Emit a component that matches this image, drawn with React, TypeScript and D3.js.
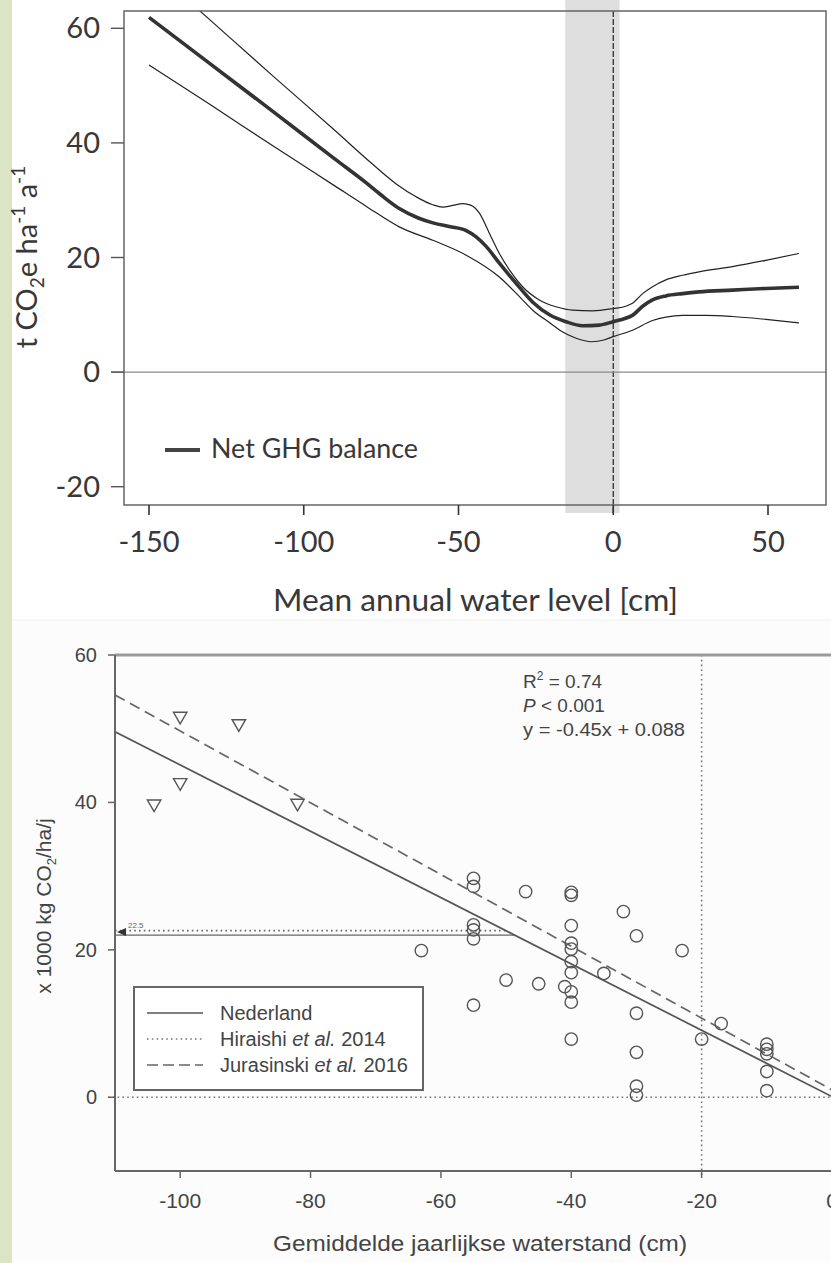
import React from 'react';
import * as d3 from 'd3';

// ---------- Top chart data ----------
const topTicksX = [-150, -100, -50, 0, 50];
const topTicksY = [-20, 0, 20, 40, 60];
const optimumBand = [-15.5, 2];
const netX = [-150, -130, -110, -90, -80, -75, -69, -63, -58, -53, -47.5, -44.3, -41, -36.8, -31.4, -26, -20.6, -15.3, -9.9, -4.5, 0, 4, 6.2, 9.5, 12.7, 17, 22.4, 27.7, 38.5, 49.3, 60];
const netY = [61.9, 53.7, 45.5, 37.2, 33.1, 30.9, 28.5, 26.9, 26.0, 25.4, 24.7, 23.6, 21.9, 19.0, 15.5, 12.2, 10.0, 8.8, 8.1, 8.2, 8.8, 9.4, 9.9, 11.5, 12.6, 13.3, 13.7, 14.0, 14.3, 14.6, 14.8];
const upperX = [-150, -133.5, -110, -90, -78, -70, -63.7, -58.3, -55.1, -51.8, -48.6, -45.9, -43.2, -40, -36.8, -33.5, -29.3, -23.9, -18.5, -13.1, -6.7, 0, 4.1, 6.2, 9.5, 12.7, 17, 22.4, 27.7, 38.5, 49.3, 60];
const upperY = [70.9, 63.0, 51.7, 42.2, 36.4, 32.8, 30.6, 29.2, 28.8, 29.1, 29.4, 29.1, 27.7, 24.2, 20.7, 17.8, 14.9, 12.6, 11.4, 10.8, 10.7, 11.1, 11.5, 12.0, 13.7, 14.9, 16.1, 16.9, 17.5, 18.4, 19.5, 20.7];
const lowerX = [-150, -130, -110, -90, -80, -69, -58.3, -47.5, -36.8, -30, -26, -20, -17, -12, -7, -3, 0, 6.2, 12.7, 17, 22.4, 30, 38.5, 49.3, 60];
const lowerY = [53.6, 46.6, 39.5, 32.5, 29.0, 25.3, 23.0, 20.4, 16.6, 13.0, 10.8, 8.4, 7.2, 5.9, 5.3, 5.6, 6.2, 7.3, 9.0, 9.6, 9.9, 9.9, 9.7, 9.2, 8.6];
const topLegendLabel = 'Net GHG balance';
const topXTitle = 'Mean annual water level [cm]';

// ---------- Bottom chart data ----------
const botTicksX = [-100, -80, -60, -40, -20, 0];
const botTicksY = [0, 20, 40, 60];
const circleX = [-55, -55, -47, -40, -40, -32, -40, -55, -55, -55, -30, -63, -23, -40, -40, -40, -40, -35, -50, -45, -41, -40, -40, -55, -30, -17, -20, -40, -10, -10, -10, -10, -30, -30, -30, -10];
const circleY = [29.7, 28.6, 27.9, 27.8, 27.4, 25.2, 23.3, 23.4, 22.7, 21.5, 21.9, 19.9, 19.9, 20.9, 20.1, 18.4, 16.9, 16.8, 15.9, 15.4, 15.0, 14.3, 12.9, 12.5, 11.4, 10.0, 7.9, 7.9, 7.2, 6.5, 5.9, 3.5, 6.1, 1.5, 0.3, 0.9];
const triX = [-100, -91, -100, -104, -82];
const triY = [51.7, 50.7, 42.7, 39.8, 39.9];
const nlSlope = -0.45;
const nlIntercept = 0.088;
const jurSlope = -0.487;
const jurIntercept = 1.0;
const hiraishiLevel = 22.6;
const readLevel = 22.0;
const refWaterLevel = -20;
const legendLabels = ['Nederland', 'Hiraishi', 'Jurasinski'];
const legendYears = ['', '2014', '2016'];
const statLines = ['0.74', '0.001', 'y = -0.45x + 0.088'];

const TOPFONT = 'Lato, "Open Sans", sans-serif';
const BOTFONT = '"Liberation Sans", Arial, sans-serif';

export default function App() {
  const W = 831, H = 1263;
  // top chart
  const tf = { l: 124, r: 826, t: 11, b: 505 };
  const xT = d3.scaleLinear().domain([-150, 50]).range([149, 768]);
  const yT = d3.scaleLinear().domain([-20, 60]).range([486.7, 28.3]);
  const lineT = d3.line<number[]>().x(d => xT(d[0])).y(d => yT(d[1])).curve(d3.curveMonotoneX);
  const zip = (a: number[], b: number[]) => a.map((v, i) => [v, b[i]]);

  // bottom chart
  const bf = { l: 115, r: 833, t: 655, b: 1171 };
  const xB = d3.scaleLinear().domain([-110, 0]).range([115, 832]);
  const yB = d3.scaleLinear().domain([-10, 60]).range([1171, 655]);
  const nl = (x: number) => nlSlope * x + nlIntercept;
  const jur = (x: number) => jurSlope * x + jurIntercept;
  const xHir = (hiraishiLevel - nlIntercept) / nlSlope;
  const xRead = (readLevel - nlIntercept) / nlSlope;
  const tri = d3.symbol().type(d3.symbolTriangle).size(78)();
  const dotted = '1.6 3.2';
  const gray = '#555';

  return (
    <svg width={W} height={H} style={{ position: 'absolute', left: 0, top: 0, background: '#fff' }}>
      <defs>
        <clipPath id="clipT"><rect x={tf.l} y={tf.t} width={tf.r - tf.l} height={tf.b - tf.t} /></clipPath>
        <clipPath id="clipB"><rect x={bf.l} y={bf.t} width={bf.r - bf.l} height={bf.b - bf.t} /></clipPath>
      </defs>
      <rect x={0} y={0} width={W} height={H} fill="#fff" />
      <rect x={12} y={620} width={W - 12} height={H - 620} fill="#fcfcfc" />
      <line x1={12} x2={W} y1={620} y2={620} stroke="#eee" strokeWidth={1} />
      <rect x={0} y={0} width={12} height={H} fill="#dbe4c4" />

      {/* ---------------- TOP CHART ---------------- */}
      <rect x={xT(optimumBand[0])} y={0} width={xT(optimumBand[1]) - xT(optimumBand[0])} height={513} fill="#dedede" />
      <line x1={xT(0)} x2={xT(0)} y1={tf.t} y2={513} stroke="#222" strokeWidth={1.2} strokeDasharray="6 2" />
      <line x1={111} x2={tf.r} y1={yT(0)} y2={yT(0)} stroke="#8a8a8a" strokeWidth={1.3} />
      <g clipPath="url(#clipT)" fill="none">
        <path d={lineT(zip(upperX, upperY)) || ''} stroke="#222" strokeWidth={1.2} />
        <path d={lineT(zip(lowerX, lowerY)) || ''} stroke="#222" strokeWidth={1.2} />
        <path d={lineT(zip(netX, netY)) || ''} stroke="#333" strokeWidth={3.6} />
      </g>
      <path d={`M${tf.l},${tf.t}H${tf.r}V${tf.b}H${tf.l}Z`} fill="none" stroke="#666" strokeWidth={1.5} />
      {topTicksY.map(v => (
        <g key={'ty' + v}>
          <line x1={111} x2={tf.l} y1={yT(v)} y2={yT(v)} stroke="#555" strokeWidth={1.4} />
          <text x={100} y={yT(v)} dy="0.35em" textAnchor="end" fontFamily={TOPFONT} fontSize={29} fill="#383838">{v}</text>
        </g>
      ))}
      {topTicksX.map(v => (
        <g key={'tx' + v}>
          <line x1={xT(v)} x2={xT(v)} y1={tf.b} y2={515} stroke="#333" strokeWidth={1.6} />
          <text x={xT(v)} y={542} dy="0.35em" textAnchor="middle" fontFamily={TOPFONT} fontSize={29} fill="#383838">{v}</text>
        </g>
      ))}
      <line x1={165} x2={200} y1={450} y2={450} stroke="#444" strokeWidth={4} />
      <text x={211} y={449} dy="0.35em" fontFamily={TOPFONT} fontSize={27} fill="#383838" textLength={207} lengthAdjust="spacingAndGlyphs">{topLegendLabel}</text>
      <text x={475.5} y={600} dy="0.35em" textAnchor="middle" fontFamily={TOPFONT} fontSize={31} fill="#383838" textLength={405} lengthAdjust="spacingAndGlyphs">{topXTitle}</text>
      <text transform="translate(37,257) rotate(-90)" textAnchor="middle" fontFamily={TOPFONT} fontSize={29} fill="#383838">
        t CO<tspan fontSize={19} dy={7}>2</tspan><tspan dy={-7}>e ha</tspan><tspan fontSize={19} dy={-12}>-1</tspan><tspan dy={12}> a</tspan><tspan fontSize={19} dy={-12}>-1</tspan>
      </text>

      {/* ---------------- BOTTOM CHART ---------------- */}
      <g fill="none">
        <line x1={108} x2={W} y1={yB(0)} y2={yB(0)} stroke="#777" strokeWidth={1.6} strokeDasharray={dotted} />
        <line x1={xB(refWaterLevel)} x2={xB(refWaterLevel)} y1={bf.t} y2={1178} stroke="#777" strokeWidth={1.6} strokeDasharray={dotted} />
        <line x1={xB(-110)} x2={xB(xHir)} y1={yB(hiraishiLevel)} y2={yB(hiraishiLevel)} stroke="#666" strokeWidth={1.8} strokeDasharray={dotted} />
        <line x1={xB(-110)} x2={xB(xRead)} y1={yB(readLevel)} y2={yB(readLevel)} stroke="#666" strokeWidth={1.4} />
      </g>
      <g clipPath="url(#clipB)" fill="none">
        <line x1={xB(-110)} x2={xB(0)} y1={yB(nl(-110))} y2={yB(nl(0))} stroke={gray} strokeWidth={1.7} />
        <line x1={xB(-110)} x2={xB(0)} y1={yB(jur(-110))} y2={yB(jur(0))} stroke="#666" strokeWidth={1.7} strokeDasharray="11 6" />
        {circleX.map((cx, i) => (
          <circle key={'c' + i} cx={xB(cx)} cy={yB(circleY[i])} r={6.2} stroke="#555" strokeWidth={1.4} />
        ))}
        {triX.map((tx, i) => (
          <path key={'t' + i} d={tri || ''} transform={`translate(${xB(tx)},${yB(triY[i])}) rotate(180)`} stroke="#555" strokeWidth={1.4} />
        ))}
      </g>
      {/* tiny marker at left of the reading line */}
      <path d={`M${xB(-110) + 2},${yB(readLevel) - 3}l9,-4l0,8z`} fill="#333" />
      <text x={xB(-110) + 13} y={yB(hiraishiLevel) - 3} fontFamily={BOTFONT} fontSize={8} fill="#666">22.5</text>

      {/* frame */}
      <line x1={bf.l} x2={W} y1={bf.t} y2={bf.t} stroke="#9a9a9a" strokeWidth={3} />
      <line x1={bf.l} x2={bf.l} y1={bf.t} y2={bf.b} stroke="#666" strokeWidth={2} />
      <line x1={bf.l} x2={W} y1={bf.b} y2={bf.b} stroke="#666" strokeWidth={2} />
      {botTicksY.map(v => (
        <g key={'by' + v}>
          <line x1={108} x2={bf.l} y1={yB(v)} y2={yB(v)} stroke="#666" strokeWidth={1.5} />
          <text x={97} y={yB(v)} dy="0.35em" textAnchor="end" fontFamily={BOTFONT} fontSize={20} fill="#444">{v}</text>
        </g>
      ))}
      {botTicksX.map(v => (
        <g key={'bx' + v}>
          <line x1={xB(v)} x2={xB(v)} y1={bf.b} y2={1178} stroke="#666" strokeWidth={1.5} />
          <text x={xB(v)} y={1201} dy="0.35em" textAnchor="middle" fontFamily={BOTFONT} fontSize={21} fill="#444">{v}</text>
        </g>
      ))}

      {/* legend */}
      <rect x={134} y={987} width={289} height={103} fill="#fff" stroke="#666" strokeWidth={2} />
      <line x1={147} x2={203} y1={1013} y2={1013} stroke={gray} strokeWidth={1.6} />
      <line x1={147} x2={203} y1={1039} y2={1039} stroke="#777" strokeWidth={1.6} strokeDasharray={dotted} />
      <line x1={147} x2={203} y1={1065} y2={1065} stroke="#666" strokeWidth={1.6} strokeDasharray="11 5" />
      <text x={220} y={1013} dy="0.35em" fontFamily={BOTFONT} fontSize={20} fill="#444">{legendLabels[0]}</text>
      <text x={220} y={1039} dy="0.35em" fontFamily={BOTFONT} fontSize={20} fill="#444">
        {legendLabels[1]} <tspan fontStyle="italic">et al.</tspan> {legendYears[1]}
      </text>
      <text x={220} y={1065} dy="0.35em" fontFamily={BOTFONT} fontSize={20} fill="#444">
        {legendLabels[2]} <tspan fontStyle="italic">et al.</tspan> {legendYears[2]}
      </text>

      {/* statistics */}
      <text x={523} y={681} dy="0.35em" fontFamily={BOTFONT} fontSize={19} fill="#444">
        R<tspan fontSize={12} dy={-8}>2</tspan><tspan dy={8}> = {statLines[0]}</tspan>
      </text>
      <text x={523} y={705} dy="0.35em" fontFamily={BOTFONT} fontSize={19} fill="#444">
        <tspan fontStyle="italic">P</tspan> &lt; {statLines[1]}
      </text>
      <text x={523} y={729} dy="0.35em" fontFamily={BOTFONT} fontSize={19} fill="#444" textLength={162} lengthAdjust="spacingAndGlyphs">{statLines[2]}</text>

      {/* axis titles */}
      <text x={480} y={1243} dy="0.35em" textAnchor="middle" fontFamily={BOTFONT} fontSize={22} fill="#444" textLength={414} lengthAdjust="spacingAndGlyphs">Gemiddelde jaarlijkse waterstand (cm)</text>
      <text transform="translate(51,906) rotate(-90)" textAnchor="middle" fontFamily={BOTFONT} fontSize={21} fill="#444">
        x 1000 kg CO<tspan fontSize={13} dy={5}>2</tspan><tspan dy={-5}>/ha/j</tspan>
      </text>
    </svg>
  );
}
